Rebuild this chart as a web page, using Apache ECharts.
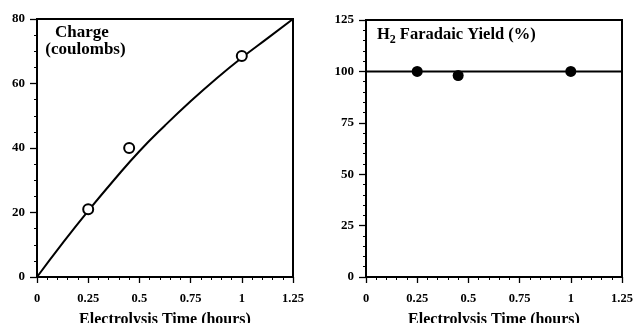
<!DOCTYPE html>
<html>
<head>
<meta charset="utf-8">
<style>
  html, body { margin: 0; padding: 0; background: #fff; }
  #chart { width: 636px; height: 323px; }
</style>
<script src="https://cdn.jsdelivr.net/npm/echarts@6/dist/echarts.min.js"></script>
</head>
<body>
<div id="chart"></div>
<script>
// measured points (hours, value)
const chargeTimes = [0.25, 0.45, 1.0]
const chargeValues = [21, 40, 68.5]
// fitted curve
const curveTimes = [0, 0.125, 0.25, 0.375, 0.5, 0.625, 0.75, 0.875, 1.0, 1.125, 1.25]
const curveValues = [0, 10.5, 20.5, 30, 39, 47, 54.5, 61.5, 68, 74, 80]
// faradaic yield points
const yieldTimes = [0.25, 0.45, 1.0]
const yieldValues = [100, 98, 100]
const yieldLineTimes = [0, 1.25]
const yieldLineValues = [100, 100]
const xTicks = [0, 0.25, 0.5, 0.75, 1, 1.25]

const font = 'Liberation Serif'
const chart = echarts.init(document.getElementById('chart'))

// shared axis styling
const xAxisBase = (gridIndex) => ({
  type: 'value',
  gridIndex,
  min: 0,
  max: 1.25,
  interval: 0.25,
  name: 'Electrolysis Time (hours)',
  nameLocation: 'middle',
  nameGap: 35,
  nameTextStyle: { fontFamily: font, fontWeight: 'bold', fontSize: 16, color: '#000' },
  axisLine: { show: true, lineStyle: { color: '#000', width: 2 } },
  axisTick: { show: true, inside: false, length: 6, lineStyle: { color: '#000', width: 1.3 } },
  minorTick: { show: true, splitNumber: 5, length: 3, lineStyle: { color: '#000', width: 1 } },
  splitLine: { show: false },
  axisLabel: {
    fontFamily: font, fontWeight: 'bold', fontSize: 12.5, color: '#000', margin: 15,
    formatter: (v) => String(xTicks.find(t => Math.abs(t - v) < 1e-9) ?? v)
  }
})
const yAxisBase = (gridIndex, max, interval, minorSplit) => ({
  type: 'value',
  gridIndex,
  min: 0,
  max,
  interval,
  axisLine: { show: true, lineStyle: { color: '#000', width: 2 } },
  axisTick: { show: true, inside: false, length: 7, lineStyle: { color: '#000', width: 1.3 } },
  minorTick: { show: true, splitNumber: minorSplit, length: 3, lineStyle: { color: '#000', width: 1 } },
  splitLine: { show: false },
  axisLabel: { fontFamily: font, fontWeight: 'bold', fontSize: 13, color: '#000', margin: 12 }
})

const titleStyle = { fontFamily: font, fontWeight: 'bold', fontSize: 17, color: '#000' }

const option = {
  backgroundColor: '#fff',
  animation: false,
  title: [
    { text: 'Charge', left: 82, top: 24, textAlign: 'center', textStyle: titleStyle, padding: 0 },
    { text: '(coulombs)', left: 85.5, top: 41, textAlign: 'center', textStyle: titleStyle, padding: 0 },
    {
      text: '{h|H}{s|2}{h|Faradaic Yield (%)}',
      left: 377, top: 24, padding: 0,
      textStyle: {
        rich: {
          h: { fontFamily: font, fontWeight: 'bold', fontSize: 16.5, color: '#000' },
          s: { fontFamily: font, fontWeight: 'bold', fontSize: 12, color: '#000', padding: [10, 4, 0, 0] }
        }
      }
    }
  ],
  grid: [
    { left: 37, top: 19, width: 256, height: 258, show: true, borderColor: '#000', borderWidth: 2, outerBoundsMode: 'none' },
    { left: 366, top: 20, width: 256, height: 257, show: true, borderColor: '#000', borderWidth: 2, outerBoundsMode: 'none' }
  ],
  xAxis: [xAxisBase(0), xAxisBase(1)],
  yAxis: [yAxisBase(0, 80, 20, 4), yAxisBase(1, 125, 25, 5)],
  series: [
    {
      type: 'line',
      xAxisIndex: 0, yAxisIndex: 0,
      data: curveTimes.map((t, i) => [t, curveValues[i]]),
      smooth: true,
      showSymbol: false,
      lineStyle: { color: '#000', width: 2 },
      z: 2
    },
    {
      type: 'scatter',
      xAxisIndex: 0, yAxisIndex: 0,
      data: chargeTimes.map((t, i) => [t, chargeValues[i]]),
      symbol: 'circle',
      symbolSize: 10,
      itemStyle: { color: '#fff', borderColor: '#000', borderWidth: 2, opacity: 1 },
      z: 3
    },
    {
      type: 'line',
      xAxisIndex: 1, yAxisIndex: 1,
      data: yieldLineTimes.map((t, i) => [t, yieldLineValues[i]]),
      showSymbol: false,
      lineStyle: { color: '#000', width: 2 },
      z: 2
    },
    {
      type: 'scatter',
      xAxisIndex: 1, yAxisIndex: 1,
      data: yieldTimes.map((t, i) => [t, yieldValues[i]]),
      symbol: 'circle',
      symbolSize: 11,
      itemStyle: { color: '#000', opacity: 1 },
      z: 3
    }
  ]
}

chart.setOption(option)
</script>
</body>
</html>
